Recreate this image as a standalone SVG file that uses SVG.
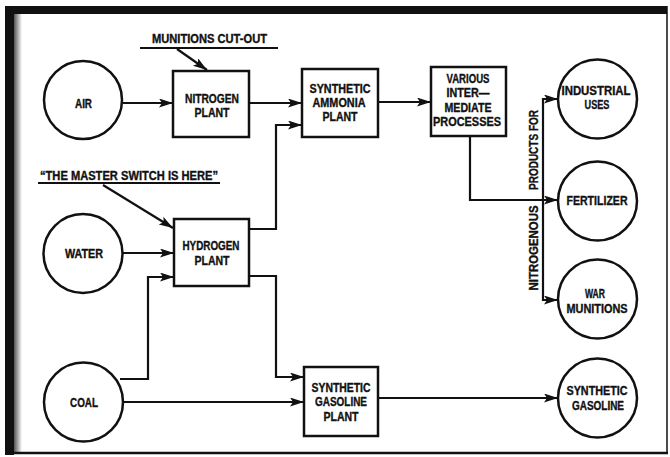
<svg xmlns="http://www.w3.org/2000/svg" width="670" height="457" viewBox="0 0 670 457">
<defs>
<marker id="ah" markerUnits="userSpaceOnUse" markerWidth="16" markerHeight="10" refX="14" refY="4.5" orient="auto">
<path d="M0,0 L14,4.5 L0,9 L3,4.5 z" fill="#111"/>
</marker>
<linearGradient id="dither" x1="0" y1="0" x2="1" y2="0">
<stop offset="0" stop-color="#555"/>
<stop offset="1" stop-color="#fff"/>
</linearGradient>
<style>
.lbl{font-family:"Liberation Sans",Arial,sans-serif;font-weight:bold;font-size:12px;fill:#111;stroke:#111;stroke-width:0.35;text-anchor:middle}
.node{fill:#fff;stroke:#111;stroke-width:2.5}
.conn{fill:none;stroke:#111;stroke-width:2.2;marker-end:url(#ah)}
.line{fill:none;stroke:#111;stroke-width:2.2}
</style>
</defs>
<rect x="0" y="0" width="670" height="457" fill="#fff"/>
<g id="frame">
<rect x="5" y="6" width="662" height="8" fill="#111"/>
<rect x="5" y="6" width="9" height="449" fill="#111"/>
<rect x="14" y="14" width="8" height="440" fill="url(#dither)"/>
<line x1="667" y1="6" x2="667" y2="454" stroke="#111" stroke-width="1.5"/>
<line x1="5" y1="453" x2="668" y2="453" stroke="#111" stroke-width="2.5"/>
</g>
<g id="connectors">
<line class="line" x1="140" y1="48" x2="278" y2="48"/>
<line class="conn" x1="177" y1="49" x2="207" y2="70"/>
<line class="line" x1="38" y1="183" x2="220" y2="183"/>
<line class="conn" x1="103" y1="185" x2="173" y2="228"/>
<line class="conn" x1="123" y1="103" x2="173" y2="103"/>
<line class="conn" x1="249" y1="103" x2="302" y2="103"/>
<path class="conn" d="M249,229 H276 V125 H302"/>
<line class="conn" x1="378" y1="102" x2="431" y2="102"/>
<path class="conn" d="M470,136 V200 H558"/>
<path class="conn" d="M543,200 V99 H558"/>
<path class="conn" d="M543,200 V300 H558"/>
<line class="conn" x1="122" y1="253" x2="174" y2="253"/>
<path class="conn" d="M120,379 H148 V277 H174"/>
<path class="conn" d="M249,276 H276 V377 H304"/>
<line class="conn" x1="122" y1="402" x2="304" y2="402"/>
<line class="conn" x1="378" y1="398" x2="558" y2="398"/>
</g>
<g id="labels">
<text class="lbl" x="209.5" y="43" textLength="115" lengthAdjust="spacingAndGlyphs">MUNITIONS CUT-OUT</text>
<text class="lbl" x="129" y="180" textLength="178" lengthAdjust="spacingAndGlyphs">“THE MASTER SWITCH IS HERE”</text>
<text class="lbl" transform="translate(538,150) rotate(-90)" x="0" y="0" textLength="80" lengthAdjust="spacingAndGlyphs">PRODUCTS FOR</text>
<text class="lbl" transform="translate(538,248) rotate(-90)" x="0" y="0" textLength="85" lengthAdjust="spacingAndGlyphs">NITROGENOUS</text>
</g>
<g id="air">
<circle class="node" cx="83" cy="100" r="39"/>
<text class="lbl" x="83.5" y="107.5" textLength="17" lengthAdjust="spacingAndGlyphs">AIR</text>
</g>
<g id="nitrogen-plant">
<rect class="node" x="173" y="71" width="76" height="66"/>
<text class="lbl" x="212" y="102.5" textLength="54" lengthAdjust="spacingAndGlyphs">NITROGEN</text>
<text class="lbl" x="212" y="116.5" textLength="35" lengthAdjust="spacingAndGlyphs">PLANT</text>
</g>
<g id="ammonia-plant">
<rect class="node" x="302" y="69" width="76" height="68"/>
<text class="lbl" x="340" y="92.5" textLength="61" lengthAdjust="spacingAndGlyphs">SYNTHETIC</text>
<text class="lbl" x="339" y="106.5" textLength="53" lengthAdjust="spacingAndGlyphs">AMMONIA</text>
<text class="lbl" x="340" y="120.5" textLength="35" lengthAdjust="spacingAndGlyphs">PLANT</text>
</g>
<g id="various">
<rect class="node" x="431" y="67" width="75" height="69"/>
<text class="lbl" x="468" y="82.5" textLength="43" lengthAdjust="spacingAndGlyphs">VARIOUS</text>
<text class="lbl" x="468" y="96.5" textLength="43" lengthAdjust="spacingAndGlyphs">INTER—</text>
<text class="lbl" x="468" y="111.5" textLength="47" lengthAdjust="spacingAndGlyphs">MEDIATE</text>
<text class="lbl" x="467" y="126" textLength="68" lengthAdjust="spacingAndGlyphs">PROCESSES</text>
</g>
<g id="industrial">
<circle class="node" cx="597.5" cy="99" r="39.5"/>
<text class="lbl" x="596" y="94.5" textLength="69" lengthAdjust="spacingAndGlyphs">INDUSTRIAL</text>
<text class="lbl" x="597" y="108.5" textLength="25" lengthAdjust="spacingAndGlyphs">USES</text>
</g>
<g id="fertilizer">
<circle class="node" cx="597.5" cy="201" r="39.5"/>
<text class="lbl" x="597" y="204.5" textLength="61" lengthAdjust="spacingAndGlyphs">FERTILIZER</text>
</g>
<g id="war-munitions">
<circle class="node" cx="597.5" cy="299" r="39.5"/>
<text class="lbl" x="595" y="297.5" textLength="20" lengthAdjust="spacingAndGlyphs">WAR</text>
<text class="lbl" x="597" y="312.5" textLength="61" lengthAdjust="spacingAndGlyphs">MUNITIONS</text>
</g>
<g id="water">
<circle class="node" cx="83" cy="253.5" r="39.5"/>
<text class="lbl" x="84" y="257.5" textLength="38" lengthAdjust="spacingAndGlyphs">WATER</text>
</g>
<g id="hydrogen-plant">
<rect class="node" x="174" y="219" width="75" height="67"/>
<text class="lbl" x="211" y="249.5" textLength="57" lengthAdjust="spacingAndGlyphs">HYDROGEN</text>
<text class="lbl" x="212" y="264.5" textLength="35" lengthAdjust="spacingAndGlyphs">PLANT</text>
</g>
<g id="coal">
<circle class="node" cx="83.5" cy="402" r="39.5"/>
<text class="lbl" x="84" y="406.5" textLength="28" lengthAdjust="spacingAndGlyphs">COAL</text>
</g>
<g id="gasoline-plant">
<rect class="node" x="304" y="367" width="74" height="69"/>
<text class="lbl" x="341" y="391.5" textLength="59" lengthAdjust="spacingAndGlyphs">SYNTHETIC</text>
<text class="lbl" x="341" y="405.5" textLength="52" lengthAdjust="spacingAndGlyphs">GASOLINE</text>
<text class="lbl" x="341" y="420.5" textLength="35" lengthAdjust="spacingAndGlyphs">PLANT</text>
</g>
<g id="synthetic-gasoline">
<circle class="node" cx="597.5" cy="398" r="39.5"/>
<text class="lbl" x="597" y="394.5" textLength="61" lengthAdjust="spacingAndGlyphs">SYNTHETIC</text>
<text class="lbl" x="598" y="409.5" textLength="52" lengthAdjust="spacingAndGlyphs">GASOLINE</text>
</g>
</svg>
